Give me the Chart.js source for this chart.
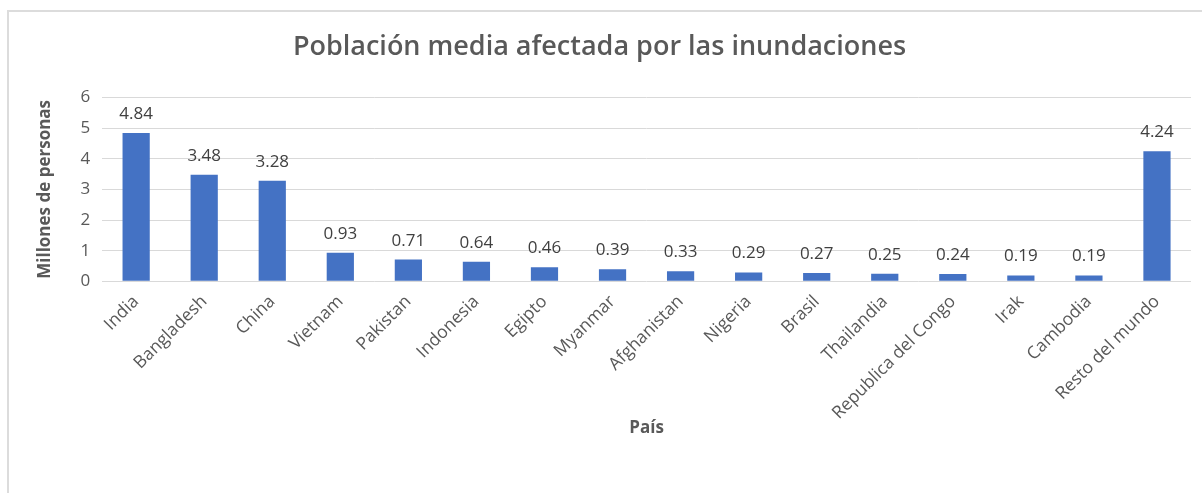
<!DOCTYPE html>
<html><head><meta charset="utf-8">
<script src="https://cdn.jsdelivr.net/npm/chart.js@4.4.0/dist/chart.umd.min.js"></script>
<style>
html,body{margin:0;padding:0;background:#fff;overflow:hidden;width:1202px;height:493px}
#frame{position:absolute;left:7px;top:10px;width:1300px;height:600px;border-left:2px solid #dcdcdc;border-top:2px solid #dcdcdc;box-sizing:border-box}
#wrap{position:absolute;left:0;top:0;width:1202px;height:493px}
</style></head><body>
<div id="frame"></div>
<div id="wrap"><canvas id="c" width="1202" height="493"></canvas></div>
<script>
const categories = ["India","Bangladesh","China","Vietnam","Pakistan","Indonesia","Egipto","Myanmar","Afghanistan","Nigeria","Brasil","Thailandia","Republica del Congo","Irak","Cambodia","Resto del mundo"];
const values = [4.84,3.48,3.28,0.93,0.71,0.64,0.46,0.39,0.33,0.29,0.27,0.25,0.24,0.19,0.19,4.24];
const yTickMin = 0;
const yTickMax = 6;
const yTickStep = 1;
const chartTitle = "Población media afectada por las inundaciones";
const xTitle = "País";
const yTitle = "Millones de personas";

const FONT = "'Open Sans', 'Noto Sans', sans-serif";
const TEXT = "#595959";

const valueLabels = {
  id: 'valueLabels',
  afterDatasetsDraw(chart) {
    const ctx = chart.ctx;
    const meta = chart.getDatasetMeta(0);
    ctx.save();
    ctx.font = "17px " + FONT;
    ctx.fillStyle = "#404040";
    ctx.textAlign = "center";
    ctx.textBaseline = "alphabetic";
    meta.data.forEach((bar, i) => {
      ctx.fillText(values[i].toFixed(2), bar.x, bar.y - 14);
    });
    ctx.restore();
  }
};

new Chart(document.getElementById('c'), {
  type: 'bar',
  data: {
    labels: categories,
    datasets: [{
      data: values,
      backgroundColor: '#4472C4',
      borderWidth: 0,
      barPercentage: 0.4,
      categoryPercentage: 1.0
    }]
  },
  options: {
    responsive: false,
    animation: false,
    devicePixelRatio: 1,
    layout: { padding: { left: 8, right: 11, top: 0, bottom: 55 } },
    plugins: {
      legend: { display: false },
      tooltip: { enabled: false },
      title: {
        display: true,
        text: chartTitle,
        color: TEXT,
        font: { family: FONT, size: 27, weight: '600' },
        padding: { top: 31, bottom: 34 }
      }
    },
    scales: {
      x: {
        grid: { display: false },
        border: { display: false },
        ticks: {
          color: TEXT,
          font: { family: FONT, size: 17.5 },
          minRotation: 45,
          maxRotation: 45,
          autoSkip: false,
          padding: 2
        },
        title: {
          display: true,
          text: xTitle,
          color: TEXT,
          font: { family: FONT, size: 17, weight: 'bold' },
          padding: { top: -8, bottom: 0 }
        }
      },
      y: {
        min: yTickMin,
        max: yTickMax,
        grid: { color: '#d9d9d9', drawTicks: false, lineWidth: 1 },
        border: { display: false },
        ticks: {
          stepSize: yTickStep,
          color: TEXT,
          font: { family: FONT, size: 17 },
          padding: 12
        },
        title: {
          display: true,
          text: yTitle,
          color: TEXT,
          font: { family: FONT, size: 17, weight: 'bold' },
          padding: { top: 27, bottom: 13 }
        }
      }
    }
  },
  plugins: [valueLabels]
});
</script>
</body></html>
